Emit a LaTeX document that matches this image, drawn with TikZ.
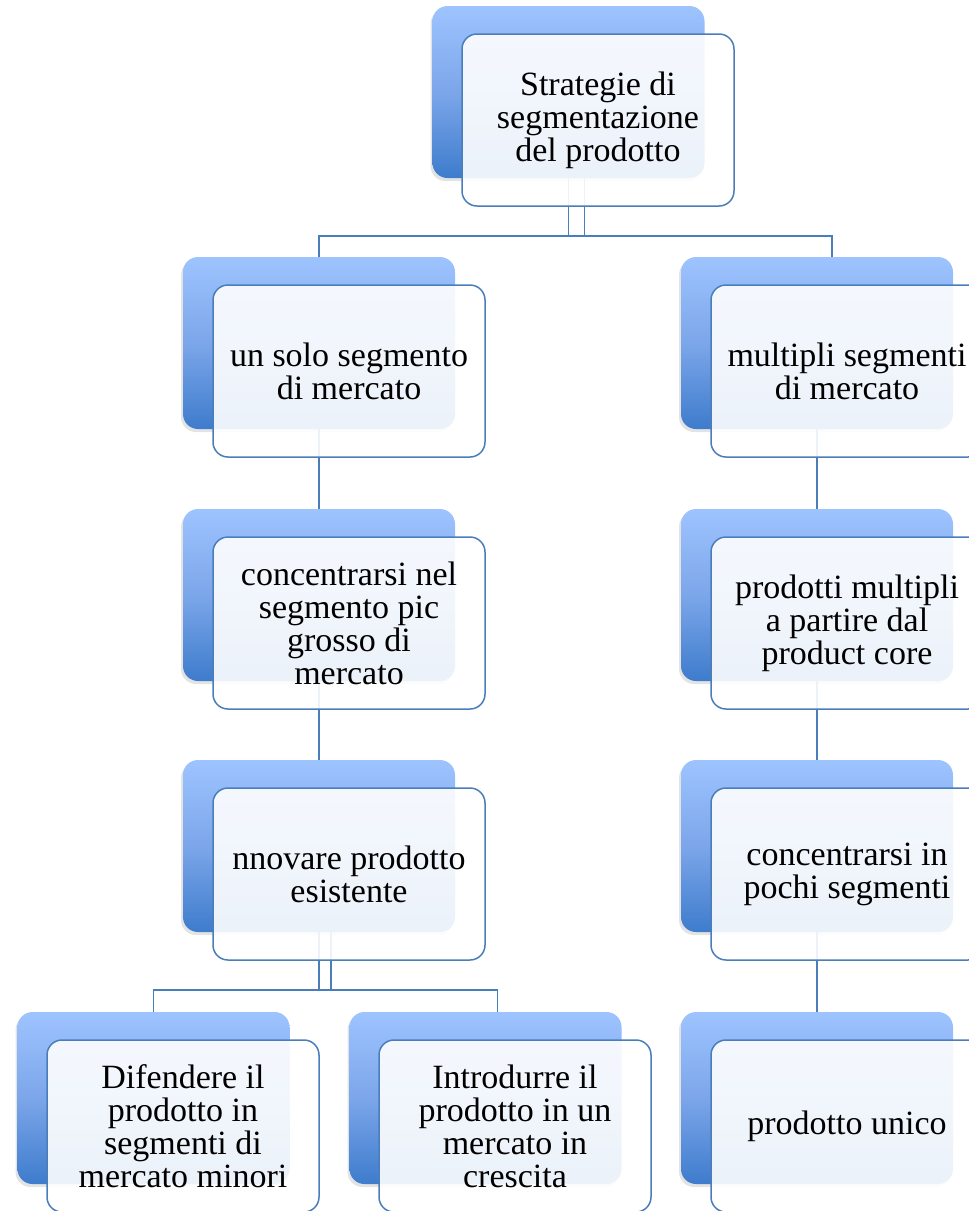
\documentclass[tikz,border=0pt]{standalone}
\usepackage{fontspec}
\setmainfont{Liberation Serif}
\usetikzlibrary{shadows,backgrounds}
\definecolor{bdr}{RGB}{74,126,187}
\definecolor{gtop}{RGB}{158,196,255}
\definecolor{gmid}{RGB}{124,166,234}
\definecolor{gbot}{RGB}{62,124,204}
\begin{document}
\begin{tikzpicture}[x=1pt,y=-1pt,
  backbox/.style={rounded corners=15pt, minimum width=272pt, minimum height=172pt,
    inner sep=0pt, draw=none, top color=gtop, bottom color=gbot, middle color=gmid,
    drop shadow={shadow xshift=-2pt,shadow yshift=-3pt,opacity=0.22}},
  frontbox/.style={rounded corners=15pt, minimum width=272pt, minimum height=172pt,
    inner sep=0pt, draw=bdr, line width=1.5pt, fill=white, fill opacity=0.9,
    text opacity=1, align=center, font=\fontsize{34}{33}\selectfont},
  conn/.style={draw=bdr, line width=1.6pt}]
\useasboundingbox (0,0) rectangle (969,1211);
% back boxes
\node[backbox] (bt) at (568.5,92) {};
\node[backbox] (bl1) at (319,343) {};
\node[backbox] (br1) at (817,343) {};
\node[backbox] (bl2) at (319,595) {};
\node[backbox] (br2) at (817,595) {};
\node[backbox] (bl3) at (319,846) {};
\node[backbox] (br3) at (817,846) {};
\node[backbox] (ba4) at (153.5,1098) {};
\node[backbox] (bb4) at (485.5,1098) {};
\node[backbox] (br4) at (817,1098) {};
% front boxes
\node[frontbox] (ft) at (598,120) {Strategie di\\segmentazione\\del prodotto};
\node[frontbox] (fl1) at (349,371) {un solo segmento\\di mercato};
\node[frontbox] (fr1) at (847,371) {multipli segmenti\\di mercato};
\node[frontbox] (fl2) at (349,623) {concentrarsi nel\\segmento pic\\grosso di\\mercato};
\node[frontbox] (fr2) at (847,623) {prodotti multipli\\a partire dal\\product core};
\node[frontbox] (fl3) at (349,874) {nnovare prodotto\\esistente};
\node[frontbox] (fr3) at (847,874) {concentrarsi in\\pochi segmenti};
\node[frontbox] (fa4) at (183,1126) {Difendere il\\prodotto in\\segmenti di\\mercato minori};
\node[frontbox] (fb4) at (515,1126) {Introdurre il\\prodotto in un\\mercato in\\crescita};
\node[frontbox] (fr4) at (847,1126) {prodotto unico};
% connectors
\begin{pgfonlayer}{background}
\draw[conn] ([xshift=16pt]bt.south) -- ++(0,58) -| (bl1.north);
\draw[conn] (bt.south) -- ++(0,58) -| ([xshift=15pt]br1.north);
\draw[conn] (bl1.south) -- (bl2.north);
\draw[conn] (bl2.south) -- (bl3.north);
\draw[conn] (br1.south) -- (br2.north);
\draw[conn] (br2.south) -- (br3.north);
\draw[conn] (br3.south) -- (br4.north);
\draw[conn] ([xshift=12pt]bl3.south) -- ++(0,58) -| (ba4.north);
\draw[conn] (bl3.south) -- ++(0,58) -| ([xshift=12pt]bb4.north);
\end{pgfonlayer}
\end{tikzpicture}
\end{document}
